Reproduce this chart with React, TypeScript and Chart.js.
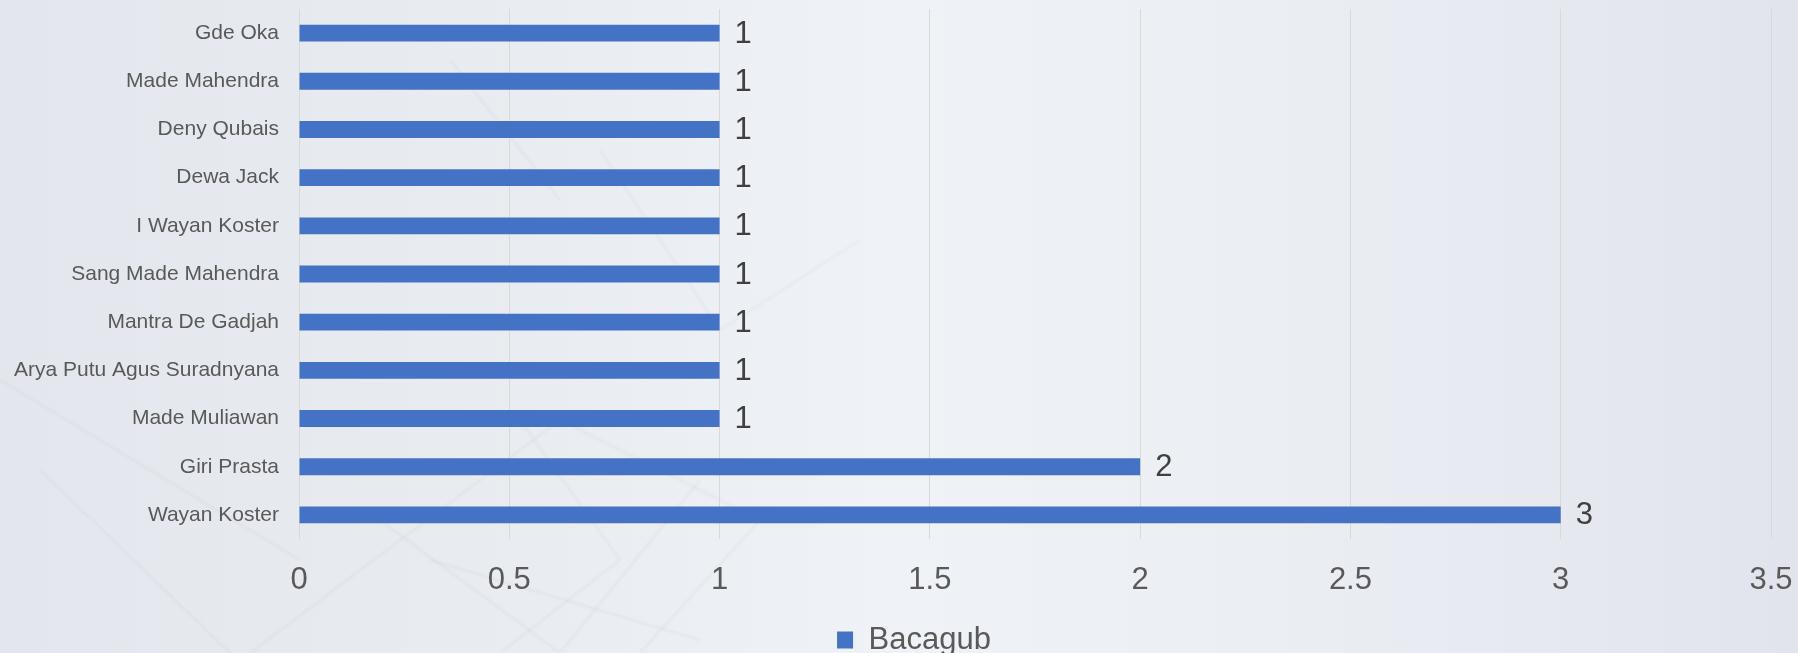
import React, { useEffect, useRef } from "react";
import { Chart, registerables } from "chart.js";

Chart.register(...registerables);

const categories = [
  "Gde Oka",
  "Made Mahendra",
  "Deny Qubais",
  "Dewa Jack",
  "I Wayan Koster",
  "Sang Made Mahendra",
  "Mantra De Gadjah",
  "Arya Putu Agus Suradnyana",
  "Made Muliawan",
  "Giri Prasta",
  "Wayan Koster",
];
const bacagubValues = [1, 1, 1, 1, 1, 1, 1, 1, 1, 2, 3];
const seriesName = "Bacagub";
const xMin = 0;
const xMax = 3.5;
const xStep = 0.5;

const FONT = '"Liberation Sans", Arial, sans-serif';

// faint decorative background "network" strokes (not data)
const decoLines: [number, number, number, number][] = [
  [250, 653, 560, 420],
  [380, 520, 560, 653],
  [430, 560, 700, 640],
  [520, 420, 620, 560],
  [620, 560, 500, 653],
  [700, 480, 560, 653],
  [0, 380, 300, 560],
  [40, 470, 230, 653],
  [560, 420, 760, 520],
  [760, 520, 640, 653],
  [600, 150, 720, 330],
  [720, 330, 860, 240],
  [450, 60, 560, 200],
];

const backgroundPlugin = {
  id: "bgGradient",
  beforeDraw(chart: any) {
    const { ctx, width, height } = chart;
    ctx.save();
    const g = ctx.createLinearGradient(0, 0, width, 0);
    g.addColorStop(0, "#e3e6ec");
    g.addColorStop(0.3, "#e9ecf1");
    g.addColorStop(0.5, "#eff2f6");
    g.addColorStop(0.7, "#ebeef3");
    g.addColorStop(1, "#e1e4ec");
    ctx.fillStyle = g;
    ctx.fillRect(0, 0, width, height);
    ctx.filter = "blur(1px)";
    ctx.strokeStyle = "rgba(140,145,155,0.08)";
    ctx.lineWidth = 2;
    decoLines.forEach(([x1, y1, x2, y2]) => {
      ctx.beginPath();
      ctx.moveTo(x1, y1);
      ctx.lineTo(x2, y2);
      ctx.stroke();
    });
    ctx.filter = "none";
    ctx.restore();
  },
};

const legendShiftPlugin = {
  id: "legendShift",
  afterLayout(chart: any) {
    if (chart.legend) {
      chart.legend.left += 15;
      chart.legend.right += 15;
    }
  },
};

const valueLabelPlugin = {
  id: "valueLabels",
  afterDatasetsDraw(chart: any) {
    const { ctx } = chart;
    chart.data.datasets.forEach((ds: any, di: number) => {
      const meta = chart.getDatasetMeta(di);
      meta.data.forEach((bar: any, i: number) => {
        ctx.save();
        ctx.font = `31px ${FONT}`;
        ctx.fillStyle = "#404040";
        ctx.textAlign = "left";
        ctx.textBaseline = "middle";
        ctx.fillText(String(ds.data[i]), bar.x + 15, bar.y + 1);
        ctx.restore();
      });
    });
  },
};

export default function App() {
  const ref = useRef<HTMLCanvasElement | null>(null);

  useEffect(() => {
    if (!ref.current) return;
    const chart = new Chart(ref.current, {
      type: "bar",
      data: {
        labels: categories,
        datasets: [
          {
            label: seriesName,
            data: bacagubValues,
            backgroundColor: "#4472c4",
            borderWidth: 0,
            barPercentage: 0.35,
            categoryPercentage: 1,
          },
        ],
      },
      options: {
        indexAxis: "y",
        responsive: false,
        animation: false,
        devicePixelRatio: 1,
        layout: { padding: { left: 0, right: 0, top: 9, bottom: -12.5 } },
        scales: {
          x: {
            type: "linear",
            min: xMin,
            max: xMax,
            ticks: {
              stepSize: xStep,
              color: "#595959",
              font: { family: FONT, size: 31 },
              padding: 23,
              maxRotation: 0,
              callback: (v: any) => String(Number(v)),
            },
            grid: { color: "#d9d9d9", lineWidth: 1, drawTicks: false },
            border: { display: false },
            afterFit(scale: any) {
              scale.height = 75.5;
              scale.paddingLeft = 0;
              scale.paddingRight = 0;
            },
          },
          y: {
            type: "category",
            ticks: {
              color: "#595959",
              font: { family: FONT, size: 21 },
              padding: 20,
            },
            grid: { display: false, drawTicks: false },
            border: { display: false },
            afterFit(scale: any) {
              scale.width = 299;
              scale.paddingTop = 0;
              scale.paddingBottom = 0;
            },
          },
          rightPad: {
            type: "linear",
            position: "right",
            display: true,
            ticks: { display: false },
            grid: { display: false, drawTicks: false },
            border: { display: false },
            afterFit(scale: any) {
              scale.width = 27;
              scale.paddingTop = 0;
              scale.paddingBottom = 0;
            },
          },
        },
        plugins: {
          legend: {
            display: true,
            position: "bottom",
            labels: {
              boxWidth: 16,
              boxHeight: 17,
              padding: 10,
              color: "#595959",
              font: { family: FONT, size: 31 },
            },
          },
          tooltip: { enabled: false },
        },
      },
      plugins: [backgroundPlugin, legendShiftPlugin, valueLabelPlugin],
    } as any);
    return () => chart.destroy();
  }, []);

  return (
    <div
      style={{
        position: "fixed",
        left: 0,
        top: 0,
        width: 1798,
        height: 653,
        overflow: "hidden",
      }}
    >
      <canvas ref={ref} width={1798} height={653} style={{ display: "block" }} />
    </div>
  );
}
